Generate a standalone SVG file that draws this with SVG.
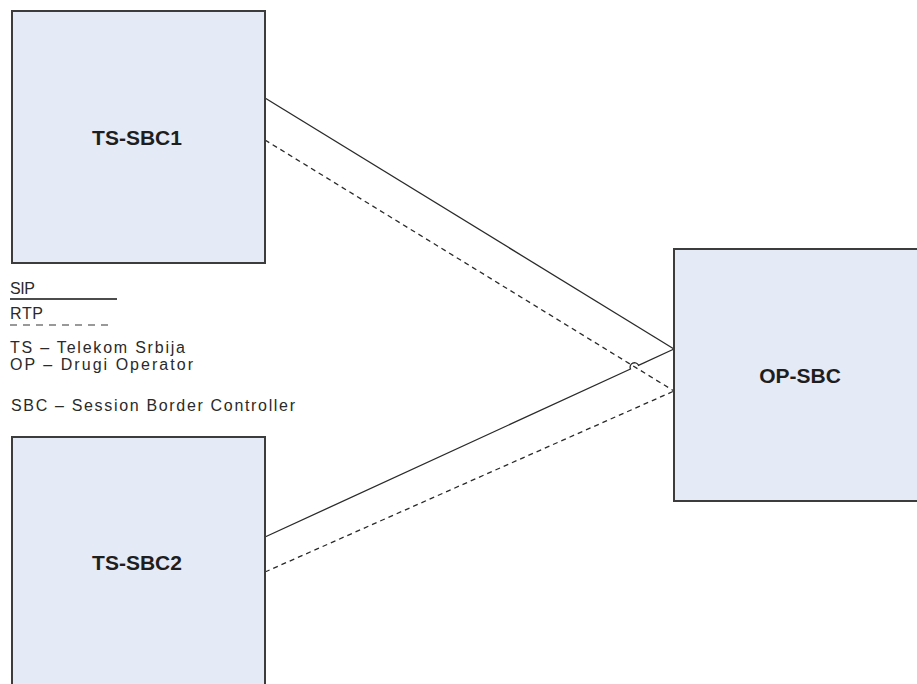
<svg xmlns="http://www.w3.org/2000/svg" width="917" height="684" viewBox="0 0 917 684">
<style>
.box{fill:#e5ebf6;stroke:#3c3c3c;stroke-width:2}
.lbl{font-family:"Liberation Sans",Arial,sans-serif;font-weight:bold;font-size:21px;fill:#1e1e1e;text-anchor:middle}
.leg{font-family:"Liberation Sans",Arial,sans-serif;font-size:16px;fill:#2a2a2a}
.sip{fill:none;stroke:#2a2a2a;stroke-width:1.3}
.rtp{fill:none;stroke:#2a2a2a;stroke-width:1.3;stroke-dasharray:5 4}
</style>
<rect width="917" height="684" fill="#ffffff"/>
<g id="connectors">
<path class="sip" d="M265,98 L674,349"/>
<path class="rtp" d="M265,140 L674,391"/>
<path class="sip" d="M265,537 L630.5,369 A4.2,4.2 0 0 1 638.5,365.3 L674,349"/>
<path class="rtp" d="M265,572 L674,391"/>
</g>
<g id="ts-sbc1">
<rect class="box" x="12" y="11" width="253" height="252"/>
<text class="lbl" x="137" y="145">TS-SBC1</text>
</g>
<g id="ts-sbc2">
<rect class="box" x="12" y="437" width="253" height="260"/>
<text class="lbl" x="137" y="570">TS-SBC2</text>
</g>
<g id="op-sbc">
<rect class="box" x="674" y="249" width="260" height="252"/>
<text class="lbl" x="800" y="383">OP-SBC</text>
</g>
<g id="legend">
<text class="leg" x="10" y="294" textLength="25" lengthAdjust="spacing">SIP</text>
<line x1="10" y1="299" x2="117" y2="299" stroke="#111" stroke-width="1.5"/>
<text class="leg" x="10" y="319" textLength="33" lengthAdjust="spacing">RTP</text>
<line x1="10" y1="325" x2="112" y2="325" stroke="#999" stroke-width="1.8" stroke-dasharray="7 6"/>
<text class="leg" x="10" y="353" textLength="175" lengthAdjust="spacing">TS – Telekom Srbija</text>
<text class="leg" x="10" y="370" textLength="183" lengthAdjust="spacing">OP – Drugi Operator</text>
<text class="leg" x="11" y="411" textLength="284" lengthAdjust="spacing">SBC – Session Border Controller</text>
</g>
</svg>
